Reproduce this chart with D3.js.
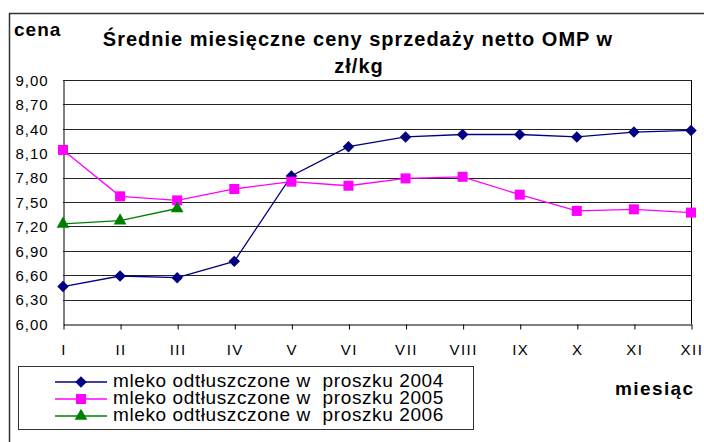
<!DOCTYPE html>
<html>
<head>
<meta charset="utf-8">
<script src="https://cdn.jsdelivr.net/npm/d3@7"></script>
<style>
  body { margin: 0; background: #fff; }
  text { font-family: "Liberation Sans", Arial, sans-serif; fill: #000; }
</style>
</head>
<body>
<svg width="704" height="442"></svg>
<script>
  // months (roman numerals) and price levels
  const months = ["I", "II", "III", "IV", "V", "VI", "VII", "VIII", "IX", "X", "XI", "XII"];
  const yTicks = [6.0, 6.3, 6.6, 6.9, 7.2, 7.5, 7.8, 8.1, 8.4, 8.7, 9.0];

  // prices in zł/kg
  const omp2004 = [6.46, 6.59, 6.57, 6.77, 7.82, 8.18, 8.30, 8.33, 8.33, 8.30, 8.36, 8.38];
  const omp2005 = [8.14, 7.57, 7.52, 7.66, 7.75, 7.70, 7.79, 7.81, 7.59, 7.39, 7.41, 7.37];
  const omp2006 = [7.23, 7.27, 7.42];

  const seriesNames = [
    "mleko odtłuszczone w  proszku 2004",
    "mleko odtłuszczone w  proszku 2005",
    "mleko odtłuszczone w  proszku 2006"
  ];

  // diamond = square turned 45 degrees
  const series = [
    { name: seriesNames[0], values: omp2004, color: "#000080", symbol: d3.symbolSquare, size: 66, rot: 45 },
    { name: seriesNames[1], values: omp2005, color: "#ff00ff", symbol: d3.symbolSquare, size: 100, rot: 0 },
    { name: seriesNames[2], values: omp2006, color: "#008000", symbol: d3.symbolTriangle, size: 70, rot: 0 }
  ];

  const svg = d3.select("svg");

  // outer chart frame
  svg.append("rect")
    .attr("x", 9.5).attr("y", 13.5)
    .attr("width", 720).attr("height", 460)
    .attr("fill", "none").attr("stroke", "#333").attr("stroke-width", 1.5);

  const plot = { left: 63, right: 691, top: 80, bottom: 324 };

  const x = d3.scalePoint()
    .domain(months)
    .range([plot.left, plot.right]);

  const y = d3.scaleLinear()
    .domain([6, 9])
    .range([plot.bottom, plot.top]);

  // horizontal gridlines
  svg.append("g")
    .selectAll("line")
    .data(yTicks.slice(1))
    .join("line")
      .attr("x1", plot.left).attr("x2", plot.right)
      .attr("y1", d => Math.round(y(d)) + 0.5)
      .attr("y2", d => Math.round(y(d)) + 0.5)
      .attr("stroke", "#222");

  // right border of plot area
  svg.append("line")
    .attr("x1", plot.right + 0.5).attr("x2", plot.right + 0.5)
    .attr("y1", plot.top).attr("y2", plot.bottom)
    .attr("stroke", "#000");

  // y axis
  const yAxis = svg.append("g")
    .attr("transform", `translate(${plot.left + 0.5},0.5)`)
    .call(d3.axisLeft(y).tickValues(yTicks).tickSize(0).tickPadding(8)
      .tickFormat(d => d3.format(".2f")(d).replace(".", ",")));
  yAxis.select(".domain").attr("stroke", "#000");
  yAxis.selectAll("text")
    .attr("text-anchor", "start").attr("x", -48)
    .style("font-family", "Liberation Sans, Arial, sans-serif")
    .style("font-size", "15px")
    .style("letter-spacing", "1px");

  // x axis
  const xAxis = svg.append("g")
    .attr("transform", `translate(0.5,${plot.bottom + 0.5})`)
    .call(d3.axisBottom(x).tickSize(5).tickSizeOuter(0).tickPadding(15));
  xAxis.select(".domain").attr("stroke", "#000");
  xAxis.selectAll(".tick line").attr("stroke", "#000");
  xAxis.selectAll("text")
    .style("font-family", "Liberation Sans, Arial, sans-serif")
    .style("font-size", "15px")
    .style("letter-spacing", "1.5px");

  // series lines + markers
  const line = d3.line()
    .x((d, i) => x(months[i]))
    .y(d => y(d));

  series.forEach(s => {
    svg.append("path")
      .datum(s.values)
      .attr("d", line)
      .attr("fill", "none")
      .attr("stroke", s.color)
      .attr("stroke-width", 1.3);
    svg.append("g")
      .selectAll("path")
      .data(s.values)
      .join("path")
        .attr("d", d3.symbol().type(s.symbol).size(s.size))
        .attr("transform", (d, i) => `translate(${x(months[i])},${y(d)}) rotate(${s.rot})`)
        .attr("fill", s.color);
  });

  // titles
  svg.append("text")
    .attr("x", 358).attr("y", 46)
    .attr("text-anchor", "middle")
    .style("font-size", "20px").style("font-weight", "bold")
    .style("letter-spacing", "1px")
    .text("Średnie miesięczne ceny sprzedaży netto OMP w");
  svg.append("text")
    .attr("x", 359).attr("y", 73)
    .attr("text-anchor", "middle")
    .style("font-size", "20px").style("font-weight", "bold")
    .style("letter-spacing", "1px")
    .text("zł/kg");

  svg.append("text")
    .attr("x", 14).attr("y", 36)
    .style("font-size", "19px").style("font-weight", "bold")
    .style("letter-spacing", "1px")
    .text("cena");

  svg.append("text")
    .attr("x", 615).attr("y", 395)
    .style("font-size", "19px").style("font-weight", "bold")
    .style("letter-spacing", "1.4px")
    .text("miesiąc");

  // legend
  const legend = svg.append("g");
  legend.append("rect")
    .attr("x", 18.5).attr("y", 366.5)
    .attr("width", 455).attr("height", 63)
    .attr("fill", "#fff").attr("stroke", "#333");

  const rows = legend.selectAll("g.row")
    .data(series)
    .join("g")
      .attr("class", "row")
      .attr("transform", (d, i) => `translate(0,${382 + i * 17})`);
  rows.append("line")
    .attr("x1", 55).attr("x2", 107)
    .attr("stroke", d => d.color).attr("stroke-width", 1.3);
  rows.append("path")
    .attr("d", d => d3.symbol().type(d.symbol).size(d.size)())
    .attr("transform", d => `translate(81,0) rotate(${d.rot})`)
    .attr("fill", d => d.color);
  rows.append("text")
    .attr("x", 113).attr("y", 5)
    .style("font-size", "19px")
    .style("letter-spacing", "0.6px")
    .style("white-space", "pre")
    .text(d => d.name);
</script>
</body>
</html>
